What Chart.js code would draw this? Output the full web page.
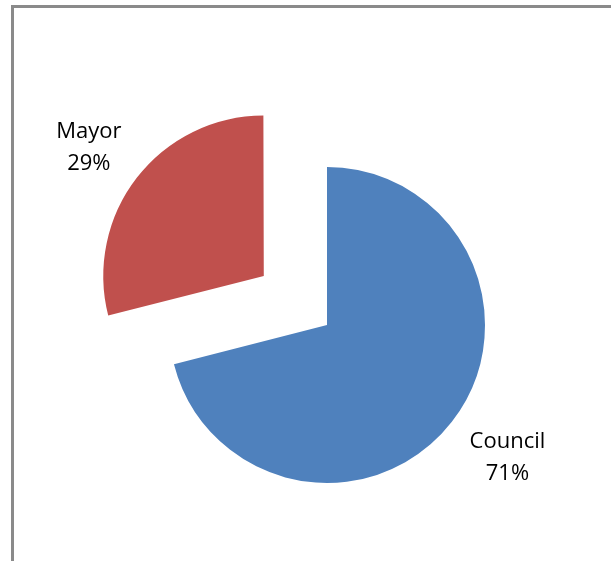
<!DOCTYPE html>
<html>
<head>
<meta charset="utf-8">
<script src="https://cdn.jsdelivr.net/npm/chart.js@4"></script>
<style>
    html, body { margin: 0; padding: 0; background: #fff; overflow: hidden; }
    #wrap { position: relative; width: 611px; height: 561px; }
    #frame {
        position: absolute; left: 11px; top: 5px; width: 800px; height: 800px;
        border: 3px solid #8a8a8a; box-sizing: border-box; pointer-events: none;
    }
    canvas { position: absolute; left: 0; top: 0; }
</style>
</head>
<body>
<div id="wrap">
    <canvas id="pieChart" width="611" height="561"></canvas>
    <div id="frame"></div>
</div>
<script>
const labels = ['Council', 'Mayor'];
const shares = [71, 29];
const colors = ['#4F81BD', '#C0504D'];
const explode = [0, 320];   // Chart.js moves a slice by offset / 4
const labelGap = [64, 52];
const labelNudge = [[5, -3], [-9, 0]];

// slice labels drawn outside the pie, along each slice's middle angle
const sliceLabels = {
    id: 'sliceLabels',
    afterDatasetsDraw(chart) {
        const { ctx } = chart;
        const meta = chart.getDatasetMeta(0);
        ctx.save();
        ctx.font = '22px "Open Sans", sans-serif';
        ctx.fillStyle = '#000';
        ctx.textAlign = 'center';
        ctx.textBaseline = 'middle';
        meta.data.forEach((arc, i) => {
            const mid = (arc.startAngle + arc.endAngle) / 2;
            const shift = (explode[i] || 0) / 4;
            const r = arc.outerRadius + labelGap[i] + shift;
            const x = arc.x + Math.cos(mid) * r + labelNudge[i][0];
            const y = arc.y + Math.sin(mid) * r + labelNudge[i][1];
            ctx.fillText(labels[i], x, y - 16);
            ctx.fillText(shares[i] + '%', x, y + 16);
        });
        ctx.restore();
    }
};

const ctx = document.getElementById('pieChart').getContext('2d');

new Chart(ctx, {
    type: 'pie',
    data: {
        labels: labels,
        datasets: [{
            data: shares,
            backgroundColor: colors,
            borderWidth: 0,
            offset: explode,
            hoverOffset: 0
        }]
    },
    options: {
        responsive: false,
        animation: false,
        events: [],
        radius: 158,
        layout: {
            padding: { left: 43, right: 0, top: 89, bottom: 0 }
        },
        plugins: {
            legend: { display: false },
            tooltip: { enabled: false }
        }
    },
    plugins: [sliceLabels]
});
</script>
</body>
</html>
